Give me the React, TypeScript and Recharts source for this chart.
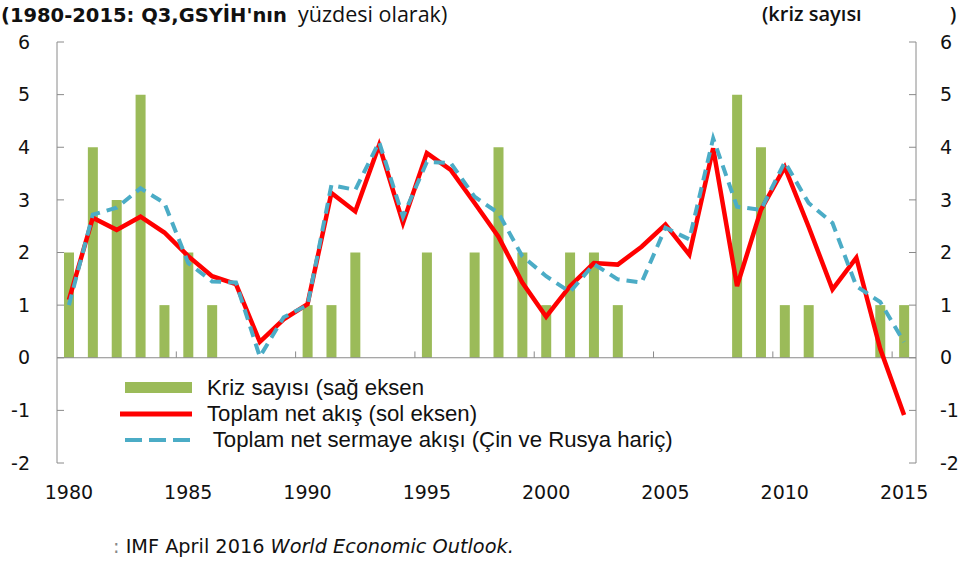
import React from 'react';
import { ComposedChart, Bar, Line, XAxis, YAxis, ReferenceLine, Legend } from 'recharts';

// yıllar (kategori)
const years = [
  1980, 1981, 1982, 1983, 1984, 1985, 1986, 1987, 1988, 1989,
  1990, 1991, 1992, 1993, 1994, 1995, 1996, 1997, 1998, 1999,
  2000, 2001, 2002, 2003, 2004, 2005, 2006, 2007, 2008, 2009,
  2010, 2011, 2012, 2013, 2014, 2015,
];

// kriz sayısı (sağ eksen)
const crises = [
  2, 4, 3, 5, 1, 2, 1, 0, 0, 0,
  1, 1, 2, 0, 0, 2, 0, 2, 4, 2,
  1, 2, 2, 1, 0, 0, 0, 0, 5, 4,
  1, 1, 0, 0, 1, 1,
];

// toplam net akış (sol eksen)
const netFlow = [
  1.1, 2.66, 2.43, 2.68, 2.38, 1.93, 1.55, 1.4, 0.3, 0.73,
  1.02, 3.13, 2.78, 4.04, 2.56, 3.89, 3.57, 2.94, 2.3, 1.43,
  0.78, 1.36, 1.8, 1.77, 2.11, 2.53, 1.96, 3.98, 1.36, 2.81,
  3.62, 2.49, 1.3, 1.9, 0.17, -1.09,
];

// Çin ve Rusya hariç
const netFlowExCnRu = [
  1.0, 2.72, 2.85, 3.22, 2.94, 1.8, 1.45, 1.43, 0.02, 0.77,
  1.0, 3.28, 3.19, 4.1, 2.68, 3.72, 3.7, 3.06, 2.75, 1.93,
  1.55, 1.25, 1.78, 1.49, 1.43, 2.47, 2.25, 4.17, 2.87, 2.81,
  3.72, 2.94, 2.56, 1.36, 1.06, 0.3,
];

const yearTicks = [1980, 1985, 1990, 1995, 2000, 2005, 2010, 2015];
const boundaryTicks = [1984.5, 1989.5, 1994.5, 1999.5, 2004.5, 2009.5, 2014.5];
const valueTicks = [-2, -1, 0, 1, 2, 3, 4, 5, 6];
const legendOrder = ['crises', 'netFlow', 'netFlowEx'];

const data = years.map((year, i) => ({
  year,
  crises: crises[i],
  netFlow: netFlow[i],
  netFlowEx: netFlowExCnRu[i],
}));

const GREEN = '#9bbb59';
const RED = '#ff0000';
const BLUE = '#4bacc6';
const AXIS = '#8a8a8a';
const SANS = '"Open Sans", "Liberation Sans", sans-serif';
const tickFont = { fontSize: 19, fill: '#111', fontFamily: '"DejaVu Sans", sans-serif' };

const renderLegend = (props: any) => {
  const items = [...(props.payload || [])].sort(
    (a: any, b: any) => legendOrder.indexOf(a.dataKey) - legendOrder.indexOf(b.dataKey)
  );
  return (
    <div style={{ fontFamily: '"Liberation Sans", Arial, sans-serif', fontSize: 22.2, lineHeight: '26px', color: '#111' }}>
      {items.map((entry: any) => (
        <div key={entry.dataKey} style={{ display: 'flex', alignItems: 'center', height: 26 }}>
          <svg width={72} height={14} style={{ marginRight: 15, flexShrink: 0 }}>
            {entry.dataKey === 'crises' && <rect x={5} y={1} width={67} height={11} fill={GREEN} />}
            {entry.dataKey === 'netFlow' && <line x1={0} y1={7} x2={72} y2={7} stroke={RED} strokeWidth={5} />}
            {entry.dataKey === 'netFlowEx' && (
              <line x1={5} y1={7} x2={70} y2={7} stroke={BLUE} strokeWidth={4} strokeDasharray="17 7" />
            )}
          </svg>
          <span style={{ whiteSpace: 'pre', lineHeight: '26px' }}>{entry.value}</span>
        </div>
      ))}
    </div>
  );
};

export default function App() {
  return (
    <div style={{ position: 'absolute', left: 0, top: 0, width: 964, height: 566, background: '#fff' }}>
      {/* başlıklar */}
      <div style={{ position: 'absolute', left: 1, top: 0, whiteSpace: 'pre', color: '#111', lineHeight: '28px' }}>
        <span style={{ fontFamily: '"DejaVu Sans", sans-serif', fontWeight: 'bold', fontSize: 19.5 }}>
          (1980-2015: Q3,GSYİH'nın
        </span>
        <span style={{ fontFamily: SANS, fontSize: 21.5 }}>  yüzdesi olarak)</span>
      </div>
      <div style={{ position: 'absolute', left: 762, top: 0, lineHeight: '28px', fontFamily: SANS, fontWeight: 600, fontSize: 20, color: '#111' }}>
        (kriz sayısı
      </div>
      <div style={{ position: 'absolute', left: 950, top: 0, lineHeight: '28px', fontFamily: SANS, fontWeight: 600, fontSize: 20, color: '#111' }}>
        )
      </div>

      <ComposedChart width={964} height={566} data={data} margin={{ top: 42, right: 0, bottom: 63, left: 0 }}>
        <XAxis
          dataKey="year"
          type="number"
          domain={[1979.5, 2015.5]}
          ticks={yearTicks}
          tickLine={false}
          axisLine={false}
          tickSize={6}
          tickMargin={17}
          height={40}
          tick={tickFont}
        />
        <YAxis
          yAxisId="left"
          orientation="left"
          domain={[-2, 6]}
          ticks={valueTicks}
          width={57}
          tickSize={-7}
          tickMargin={34}
          axisLine={{ stroke: AXIS }}
          tickLine={{ stroke: AXIS }}
          tick={tickFont}
        />
        <YAxis
          yAxisId="right"
          orientation="right"
          domain={[-2, 6]}
          ticks={valueTicks}
          width={48}
          tickSize={-7}
          tickMargin={31}
          axisLine={{ stroke: AXIS }}
          tickLine={{ stroke: AXIS }}
          tick={tickFont}
        />
        <ReferenceLine yAxisId="left" y={0} stroke={AXIS} strokeWidth={1.2} />
        {boundaryTicks.map((b) => (
          <ReferenceLine
            key={b}
            yAxisId="left"
            segment={[{ x: b, y: 0 }, { x: b, y: 0.12 }]}
            stroke={AXIS}
          />
        ))}
        <Legend
          content={renderLegend}
          layout="vertical"
          align="center"
          verticalAlign="middle"
          wrapperStyle={{ position: 'absolute', left: 120, top: 375, width: 640 }}
        />
        <Bar
          yAxisId="right"
          dataKey="crises"
          name="Kriz sayısı (sağ eksen"
          fill={GREEN}
          barSize={10}
          isAnimationActive={false}
        />
        <Line
          yAxisId="left"
          dataKey="netFlow"
          name="Toplam net akış (sol eksen)"
          type="linear"
          stroke={RED}
          strokeWidth={4.5}
          dot={false}
          isAnimationActive={false}
        />
        <Line
          yAxisId="left"
          dataKey="netFlowEx"
          name=" Toplam net sermaye akışı (Çin ve Rusya hariç)"
          type="linear"
          stroke={BLUE}
          strokeWidth={4}
          strokeDasharray="11 7"
          dot={false}
          isAnimationActive={false}
        />
      </ComposedChart>

      {/* kaynak */}
      <div style={{ position: 'absolute', left: 113, top: 535, whiteSpace: 'pre', fontFamily: '"DejaVu Sans", sans-serif', fontSize: 19.3, color: '#111' }}>
        <span style={{ color: '#888' }}>:</span> IMF April 2016 <i>World Economic Outlook.</i>
      </div>
    </div>
  );
}
